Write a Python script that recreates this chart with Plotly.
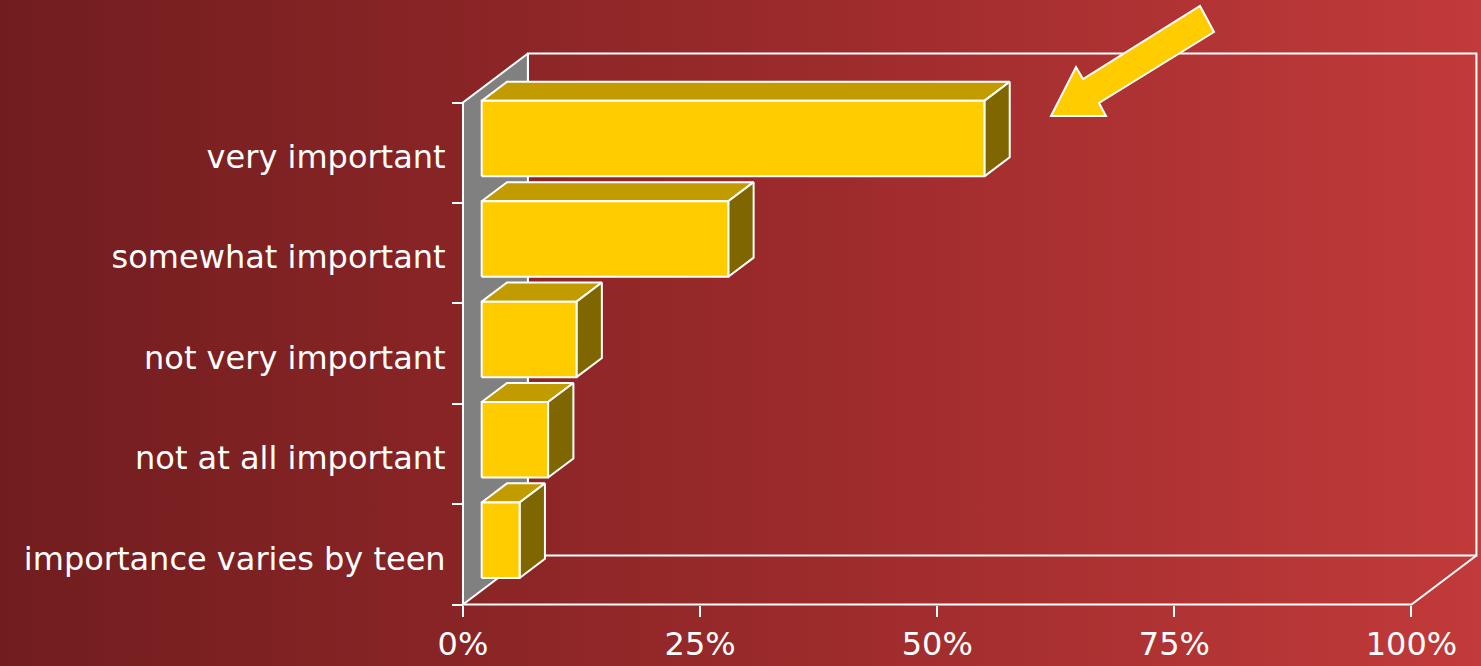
import plotly.graph_objects as go

categories = ["importance varies by teen", "not at all important",
              "not very important", "somewhat important", "very important"]
values = [4, 7, 10, 26, 53]
x_ticks = [0, 25, 50, 75, 100]
x_tick_labels = ["0%", "25%", "50%", "75%", "100%"]

W, H = 1481, 666
# fake 3d projection (in axis units)
DX, DY = 6.85, 0.488      # depth offset of back wall
F0, BD = 0.288, 0.39      # bar front depth / bar depth (fraction of DX, DY)
HALF = 0.376              # half bar height

X_RANGE = [-48.81, 107.33]
Y_RANGE = [-0.6125, 6.021]

FRONT = "#ffcc00"
TOP = "#c29b00"
SIDE = "#806600"
EDGE = "white"


def poly(xs, ys, fill, line=EDGE, width=2):
    return go.Scatter(x=xs + xs[:1], y=ys + ys[:1], mode="lines", fill="toself",
                      fillcolor=fill, line=dict(color=line, width=width),
                      hoverinfo="skip", showlegend=False)


def path(xs, ys, width=2):
    return go.Scatter(x=xs, y=ys, mode="lines", line=dict(color=EDGE, width=width),
                      hoverinfo="skip", showlegend=False)


fig = go.Figure()

# background gradient
fig.add_trace(go.Scatter(
    x=[X_RANGE[0], X_RANGE[1], X_RANGE[1], X_RANGE[0], X_RANGE[0]],
    y=[Y_RANGE[0], Y_RANGE[0], Y_RANGE[1], Y_RANGE[1], Y_RANGE[0]],
    mode="lines", line=dict(width=0), fill="toself",
    fillgradient=dict(type="horizontal",
                      colorscale=[[0, "#711d1f"], [0.5, "#98292a"], [1, "#c23a3a"]]),
    hoverinfo="skip", showlegend=False))

n = len(categories)
# left wall
fig.add_trace(poly([0, DX, DX, 0], [0, DY, n + DY, n], "#808080"))
# back wall outline
fig.add_trace(path([DX, DX, 100 + DX, 100 + DX, DX], [DY, n + DY, n + DY, DY, DY]))
# floor
fig.add_trace(path([0, 100, 100 + DX], [0, 0, DY]))

# bars
for i, v in enumerate(values):
    x0 = F0 * DX
    x1 = x0 + v
    yc = i + 0.5 + F0 * DY
    y0, y1 = yc - HALF, yc + HALF
    ox, oy = BD * DX, BD * DY
    fig.add_trace(poly([x0, x1, x1 + ox, x0 + ox], [y1, y1, y1 + oy, y1 + oy], TOP))
    fig.add_trace(poly([x1, x1 + ox, x1 + ox, x1], [y0, y0 + oy, y1 + oy, y1], SIDE))
    fig.add_trace(poly([x0, x1, x1, x0], [y0, y0, y1, y1], FRONT))

# block arrow (pixel outline)
arrow_px = [(1051, 116), (1076, 67), (1083, 79), (1200, 6), (1214, 32),
            (1099, 103), (1106, 116)]
arrow_path = "M " + " L ".join(f"{x / W:.5f},{1 - y / H:.5f}" for x, y in arrow_px) + " Z"
fig.add_shape(type="path", path=arrow_path, xref="paper", yref="paper",
              fillcolor=FRONT, line=dict(color="white", width=2))

font = dict(family="DejaVu Sans", size=32, color="white")

fig.update_layout(
    width=W, height=H,
    margin=dict(l=0, r=0, t=0, b=0),
    paper_bgcolor="#98292a",
    plot_bgcolor="rgba(0,0,0,0)",
    showlegend=False,
    xaxis=dict(range=X_RANGE, domain=[0, 1], anchor="free", position=(H - 604.5) / H,
               tickmode="array", tickvals=x_ticks, ticktext=x_tick_labels,
               ticks="outside", ticklen=11, tickwidth=2, tickcolor="white",
               tickfont=font, showgrid=False, zeroline=False, showline=False),
    yaxis=dict(range=Y_RANGE, domain=[0, 1], anchor="free", position=463 / W,
               tickmode="array", tickvals=[i + 0.46 for i in range(n)], ticktext=categories,
               ticks="outside", ticklen=11, tickcolor="rgba(0,0,0,0)",
               minor=dict(tickmode="array", tickvals=list(range(n + 1)), ticks="outside",
                          ticklen=11, tickwidth=2, tickcolor="white"),
               tickfont=font, showgrid=False, zeroline=False, showline=False),
)

fig.write_html("out.html", config={"displayModeBar": False},
               post_script="document.body.style.margin='0';document.body.style.overflow='hidden';")
